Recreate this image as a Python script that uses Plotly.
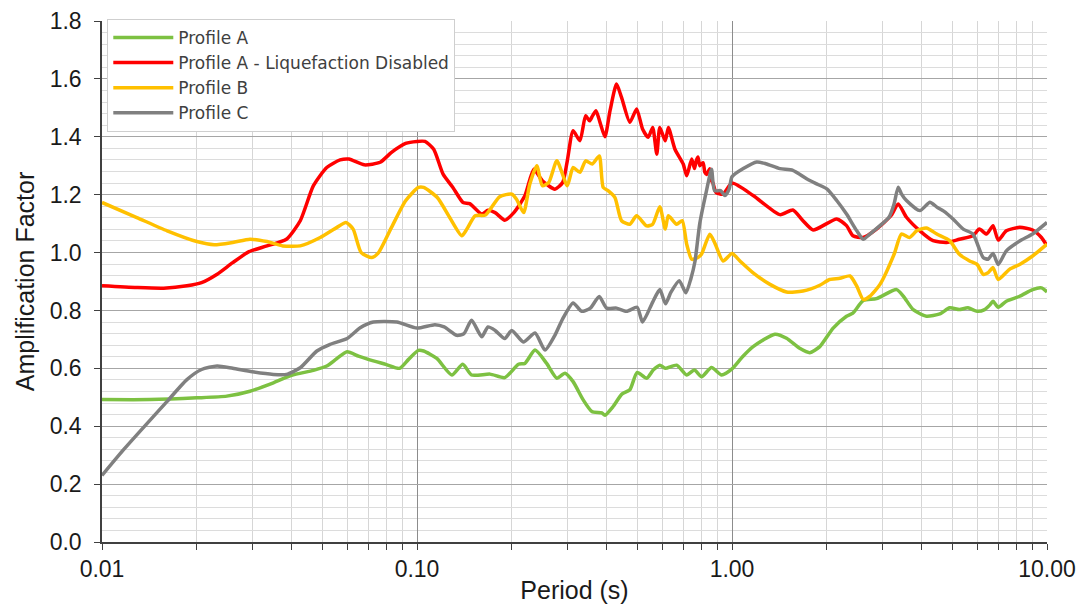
import plotly.graph_objects as go

# Period (s) and amplification factor for each soil profile
period_a = [0.01, 0.0142, 0.02, 0.0249, 0.0295, 0.035, 0.04, 0.0469, 0.0517, 0.0557, 0.06, 0.0652, 0.07, 0.08, 0.088,
            0.094, 0.101, 0.105, 0.1156, 0.129, 0.1397, 0.149, 0.1706, 0.19, 0.21, 0.22, 0.237, 0.258, 0.278, 0.295,
            0.313, 0.337, 0.359, 0.386, 0.395, 0.42, 0.447, 0.474, 0.5, 0.536, 0.562, 0.59, 0.614, 0.667, 0.718, 0.76,
            0.801, 0.861, 0.927, 1.0, 1.08, 1.167, 1.368, 1.49, 1.64, 1.766, 1.9, 2.095, 2.31, 2.42, 2.61, 2.876, 3.33,
            3.5, 3.76, 4.14, 4.57, 4.91, 5.27, 5.61, 6.0, 6.34, 6.6, 6.74, 7.0, 7.43, 8.19, 9.0, 9.6, 10.0]
amp_a = [0.492, 0.492, 0.498, 0.504, 0.521, 0.55, 0.576, 0.593, 0.608, 0.634, 0.657, 0.642, 0.631, 0.613, 0.6,
         0.631, 0.662, 0.66, 0.634, 0.577, 0.614, 0.577, 0.58, 0.568, 0.614, 0.617, 0.663, 0.617, 0.566, 0.583,
         0.554, 0.491, 0.451, 0.446, 0.438, 0.469, 0.511, 0.526, 0.586, 0.566, 0.594, 0.611, 0.6, 0.611, 0.577, 0.594,
         0.571, 0.603, 0.577, 0.598, 0.64, 0.675, 0.718, 0.704, 0.669, 0.654, 0.675, 0.739, 0.78, 0.791, 0.834, 0.841,
         0.872, 0.849, 0.803, 0.78, 0.788, 0.809, 0.803, 0.809, 0.797, 0.803, 0.82, 0.832, 0.811, 0.832, 0.849, 0.872,
         0.878, 0.864]

period_a_nl = [0.01, 0.0129, 0.0157, 0.0186, 0.0207, 0.0232, 0.026, 0.0293, 0.0334, 0.0385, 0.0426, 0.0469, 0.0517,
               0.057, 0.0608, 0.068, 0.0764, 0.083, 0.092, 0.1, 0.106, 0.113, 0.121, 0.13, 0.14, 0.147, 0.1605, 0.168,
               0.177, 0.19, 0.203, 0.22, 0.235, 0.25, 0.274, 0.29, 0.3, 0.313, 0.329, 0.343, 0.353, 0.361, 0.37, 0.381,
               0.395, 0.41, 0.43, 0.446, 0.474, 0.498, 0.52, 0.542, 0.56, 0.577, 0.59, 0.614, 0.628, 0.659, 0.7,
               0.718, 0.745, 0.76, 0.77, 0.78, 0.79, 0.8, 0.81, 0.82, 0.83, 0.85, 0.861, 0.87, 0.89, 0.937, 1.0,
               1.167, 1.42, 1.56, 1.68, 1.81, 2.15, 2.31, 2.42, 2.61, 2.876, 3.2, 3.37, 3.58, 3.95, 4.35, 4.8, 5.27,
               5.82, 6.1, 6.43, 6.74, 7.0, 7.43, 8.19, 9.0, 9.6, 10.0]
amp_a_nl = [0.885, 0.879, 0.877, 0.885, 0.896, 0.925, 0.965, 1.003, 1.023, 1.046, 1.11, 1.231, 1.294,
            1.32, 1.323, 1.303, 1.312, 1.346, 1.377, 1.384, 1.384, 1.357, 1.271, 1.225, 1.173, 1.169, 1.133, 1.146,
            1.138, 1.112, 1.138, 1.196, 1.288, 1.248, 1.219, 1.242, 1.317, 1.421, 1.386, 1.473, 1.455, 1.473, 1.49,
            1.45, 1.4, 1.49, 1.582, 1.536, 1.45, 1.496, 1.427, 1.398, 1.432, 1.34, 1.432, 1.386, 1.432, 1.357, 1.306,
            1.265, 1.323, 1.29, 1.317, 1.33, 1.30, 1.306, 1.31, 1.277, 1.27, 1.29, 1.248, 1.24, 1.208, 1.202, 1.24,
            1.197, 1.131, 1.147, 1.11, 1.078, 1.116, 1.093, 1.058, 1.052, 1.081, 1.128, 1.168, 1.122, 1.075, 1.041,
            1.035, 1.046, 1.058, 1.081, 1.064, 1.093, 1.043, 1.075, 1.087, 1.078, 1.052, 1.023]

period_b = [0.01, 0.0129, 0.0161, 0.02, 0.0227, 0.026, 0.0295, 0.0334, 0.0375, 0.0426, 0.0493, 0.0557, 0.0595,
            0.0627, 0.0665, 0.0719, 0.0755, 0.083, 0.092, 0.101, 0.105, 0.116, 0.127, 0.1387, 0.144, 0.153, 0.165,
            0.183, 0.2, 0.207, 0.218, 0.228, 0.24, 0.25, 0.262, 0.278, 0.3, 0.313, 0.329, 0.343, 0.36, 0.379, 0.39,
            0.405, 0.425, 0.446, 0.474, 0.498, 0.536, 0.56, 0.59, 0.614, 0.628, 0.667, 0.695, 0.718, 0.745, 0.78,
            0.8, 0.85, 0.88, 0.937, 1.0, 1.06, 1.167, 1.32, 1.49, 1.68, 1.9, 2.04, 2.2, 2.37, 2.49, 2.61, 2.74, 2.95,
            3.27, 3.45, 3.66, 3.86, 4.14, 4.47, 4.91, 5.27, 5.68, 6.0, 6.27, 6.5, 6.74, 7.0, 7.6, 8.19, 9.0, 10.0]
amp_b = [1.173, 1.121, 1.075, 1.038, 1.027, 1.035, 1.046, 1.038, 1.023, 1.023, 1.052, 1.087, 1.104,
         1.081, 1.0, 0.983, 1.0, 1.087, 1.179, 1.225, 1.225, 1.19, 1.121, 1.058, 1.081, 1.127, 1.13,
         1.193, 1.202, 1.184, 1.138, 1.236, 1.30, 1.231, 1.242, 1.317, 1.231, 1.294, 1.277, 1.317, 1.306, 1.334, 1.225,
         1.213, 1.19, 1.11, 1.098, 1.127, 1.092, 1.098, 1.158, 1.081, 1.127, 1.098, 1.11, 1.029, 0.977, 0.983,
         0.994, 1.063, 1.035, 0.971, 0.997, 0.971, 0.93, 0.89, 0.864, 0.867, 0.887, 0.907, 0.911, 0.919, 0.884, 0.838,
         0.849, 0.89, 0.994, 1.064, 1.052, 1.075, 1.085, 1.064, 1.041, 0.994, 0.971, 0.959, 0.925, 0.93, 0.948, 0.907,
         0.942, 0.959, 0.988, 1.029]

period_c = [0.01, 0.01171, 0.0161, 0.0186, 0.0207, 0.0232, 0.026, 0.03, 0.035, 0.0385, 0.0426, 0.0481, 0.053, 0.06,
            0.066, 0.0727, 0.0863, 0.1, 0.114, 0.122, 0.1337, 0.141, 0.149, 0.1605, 0.168, 0.177, 0.19, 0.2, 0.2176,
            0.237, 0.255, 0.274, 0.29, 0.313, 0.333, 0.355, 0.379, 0.4, 0.43, 0.463, 0.5, 0.52, 0.56, 0.59, 0.615,
            0.64, 0.68, 0.714, 0.74, 0.763, 0.79, 0.83, 0.861, 0.88, 0.92, 0.95, 0.98, 1.0, 1.086, 1.198, 1.28, 1.42,
            1.56, 1.725, 1.85, 2.0, 2.15, 2.31, 2.49, 2.61, 2.74, 2.95, 3.15, 3.27, 3.37, 3.45, 3.58, 3.95, 4.25, 4.47,
            4.7, 5.03, 5.42, 5.82, 6.27, 6.5, 6.74, 7.0, 7.43, 8.19, 9.0, 10.0]
amp_c = [0.23, 0.319, 0.486, 0.561, 0.596, 0.608, 0.6, 0.588, 0.579, 0.579, 0.602, 0.66, 0.683, 0.703,
         0.74, 0.76, 0.76, 0.739, 0.751, 0.743, 0.714, 0.72, 0.766, 0.709, 0.743, 0.731, 0.703, 0.731, 0.691,
         0.722, 0.663, 0.714, 0.771, 0.826, 0.797, 0.808, 0.848, 0.808, 0.808, 0.797, 0.811, 0.76, 0.829, 0.872, 0.823,
         0.863, 0.903, 0.861, 0.909, 0.97, 1.10, 1.214, 1.288, 1.214, 1.214, 1.197, 1.22, 1.262, 1.29, 1.313, 1.307,
         1.29, 1.284, 1.255, 1.238, 1.22, 1.18, 1.133, 1.075, 1.046, 1.064, 1.093, 1.122, 1.168, 1.226, 1.203, 1.18,
         1.145, 1.174, 1.157, 1.143, 1.116, 1.081, 1.064, 0.983, 0.977, 0.997, 0.959, 1.006, 1.04, 1.064, 1.104]

series = [
    ("Profile A", period_a, amp_a, "#7DC142"),
    ("Profile A - Liquefaction Disabled", period_a_nl, amp_a_nl, "#FF0000"),
    ("Profile B", period_b, amp_b, "#FFC000"),
    ("Profile C", period_c, amp_c, "#808080"),
]

x_ticks = [0.01, 0.1, 1, 10]
x_tick_text = ["0.01", "0.10", "1.00", "10.00"]
x_minor = [m * d for d in (0.01, 0.1, 1) for m in range(2, 10)]

fig = go.Figure()
for name, px, amp, color in series:
    fig.add_trace(go.Scatter(
        x=px, y=amp, name=name, mode="lines",
        line=dict(color=color, width=3.5, shape="spline", smoothing=0.6),
    ))

tick_font = dict(family="Arial", size=23, color="#1a1a1a")
title_font = dict(family="Arial", size=25, color="#1a1a1a")

fig.update_layout(
    width=1088, height=610,
    margin=dict(l=102, r=41, t=21, b=68),
    paper_bgcolor="white", plot_bgcolor="white",
    showlegend=True,
    legend=dict(
        x=0.0056, y=1.004, xanchor="left", yanchor="top",
        bgcolor="white", bordercolor="#cfcfcf", borderwidth=1,
        font=dict(family="DejaVu Sans, sans-serif", size=17, color="#404040"),
        itemwidth=60,
    ),
    xaxis=dict(
        type="log", range=[-2, 1], automargin=False,
        tickmode="array", tickvals=x_ticks, ticktext=x_tick_text,
        showgrid=True, gridcolor="#8c8c8c", gridwidth=1,
        showline=True, linecolor="#404040", linewidth=1.5,
        ticks="outside", ticklen=6, tickcolor="#404040",
        tickfont=tick_font, ticklabelstandoff=0,
        minor=dict(tickvals=x_minor, showgrid=True, gridcolor="#d6d6d6", gridwidth=1,
                   ticks="outside", ticklen=6, tickcolor="#404040"),
        title=dict(text="Period (s)", font=title_font, standoff=0),
        zeroline=False,
    ),
    yaxis=dict(
        range=[0, 1.8], automargin=False,
        tickmode="linear", tick0=0, dtick=0.2, tickformat=".1f",
        showgrid=True, gridcolor="#a6a6a6", gridwidth=1,
        showline=True, linecolor="#404040", linewidth=1.5,
        ticks="outside", ticklen=6, tickcolor="#404040",
        tickfont=tick_font, ticklabelstandoff=8,
        minor=dict(dtick=0.04, showgrid=True, gridcolor="#dcdcdc", gridwidth=1),
        title=dict(text="Amplification Factor", font=title_font, standoff=8),
        zeroline=False,
    ),
)

fig.write_html("out.html")
